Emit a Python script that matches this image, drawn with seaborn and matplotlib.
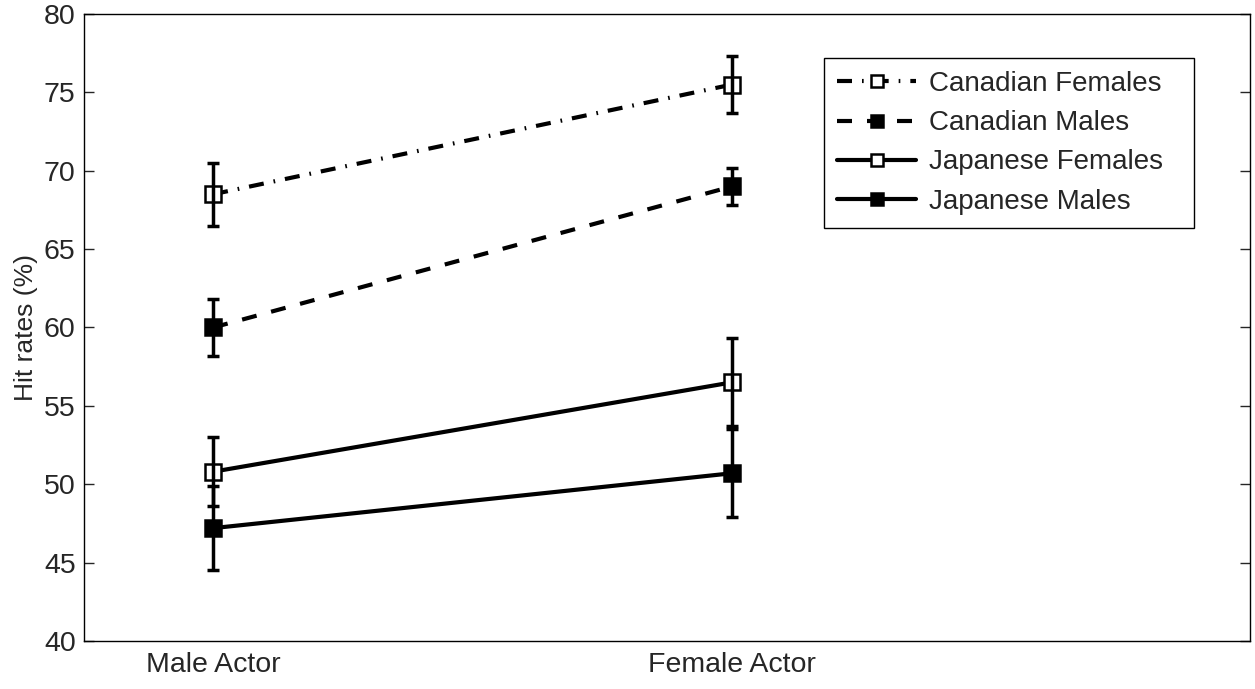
import matplotlib.pyplot as plt
import seaborn as sns
import pandas as pd

# data
actors = ['Male Actor', 'Female Actor']
canadian_females = [68.5, 75.5]
canadian_females_err = [2.0, 1.8]
canadian_males = [60.0, 69.0]
canadian_males_err = [1.8, 1.2]
japanese_females = [50.8, 56.5]
japanese_females_err = [2.2, 2.8]
japanese_males = [47.2, 50.7]
japanese_males_err = [2.7, 2.8]

sns.set_style('ticks')
plt.rcParams['font.family'] = ['Liberation Sans', 'DejaVu Sans']

series = [
    ('Canadian Females', canadian_females, canadian_females_err, (0, (3.6, 2.4, 0.4, 2.4)), 'white'),
    ('Canadian Males', canadian_males, canadian_males_err, (0, (3.6, 3.6)), 'black'),
    ('Japanese Females', japanese_females, japanese_females_err, '-', 'white'),
    ('Japanese Males', japanese_males, japanese_males_err, '-', 'black'),
]

fig = plt.figure(figsize=(12.55, 6.89), dpi=100)
ax = fig.add_axes([0.0669, 0.0697, 0.9291, 0.91])

for name, vals, err, ls, face in series:
    df = pd.DataFrame({'actor': actors, 'rate': vals})
    sns.lineplot(data=df, x='actor', y='rate', ax=ax, sort=False, color='black',
                 linewidth=3, linestyle=ls, marker='s', markersize=12,
                 markerfacecolor=face, markeredgecolor='black', markeredgewidth=1.8,
                 label=name)
    ax.errorbar(actors, vals, yerr=err, fmt='none', ecolor='black',
                elinewidth=2.5, capsize=4, capthick=2.5, zorder=3)

ax.set_xlim(-0.249, 1.998)
ax.set_ylim(40, 80)
ax.set_yticks(range(40, 81, 5))
ax.set_xlabel('')
ax.set_ylabel('Hit rates (%)', fontsize=19, labelpad=4)
ax.tick_params(axis='y', direction='in', length=7, width=1, right=True,
               labelsize=20.5, pad=6)
ax.tick_params(axis='x', length=0, labelsize=20.5, pad=8)
for sp in ax.spines.values():
    sp.set_linewidth(1)
    sp.set_color('black')

# legend box stretched to the width seen in the reference
leg = ax.legend(loc='upper left', bbox_to_anchor=(0.6346, 0.0, 0.3173, 0.93),
                mode='expand', borderaxespad=0,
                fontsize=20, handlelength=2.85, markerscale=0.75, fancybox=False,
                framealpha=1, edgecolor='black', labelspacing=0.475,
                borderpad=0.475, handletextpad=0.45)
leg.get_frame().set_linewidth(1)

fig.savefig('out.png', dpi=100)
